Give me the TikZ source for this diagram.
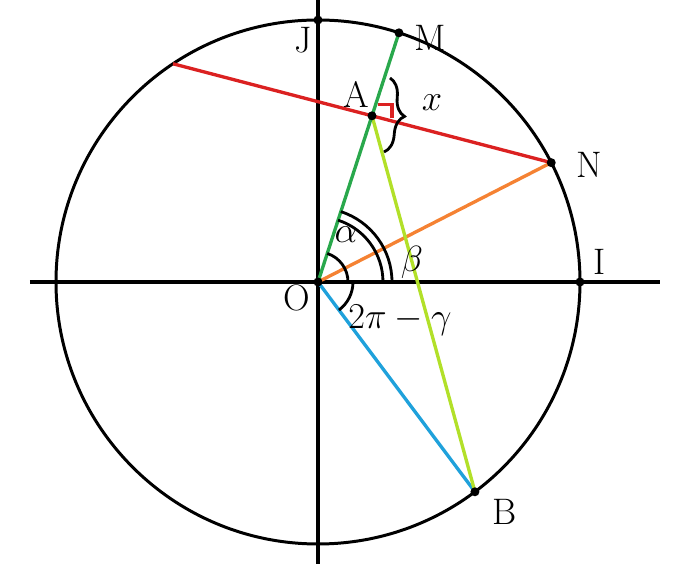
\documentclass[tikz,border=0pt]{standalone}
\usepackage{amsmath}
\usepackage{tikz}
\usetikzlibrary{calc}
\usetikzlibrary{intersections}
\usetikzlibrary{decorations.pathreplacing}
\definecolor{chordred}{rgb}{0.86,0.13,0.13}
\definecolor{radgreen}{rgb}{0.16,0.66,0.30}
\definecolor{radorange}{rgb}{0.96,0.51,0.20}
\definecolor{radblue}{rgb}{0.12,0.63,0.86}
\definecolor{segyellow}{rgb}{0.70,0.88,0.16}
\tikzset{
  axisline/.style={draw=black,line width=2.0pt},
  circleline/.style={draw=black,line width=1.7pt},
  colline/.style={line width=1.9pt},
  angleline/.style={draw=black,line width=1.6pt},
  dotpt/.style={fill=black},
  lbl/.style={font=\fontsize{21}{25}\selectfont}
}

\begin{document}
\begin{tikzpicture}[x=0.02cm,y=0.02cm]
  \useasboundingbox (-318,-282) rectangle (376,282);
  \coordinate (O) at (0,0);
  \coordinate (I) at (262,0);
  \coordinate (J) at (0,262);
  \coordinate (M) at (72:262);
  \coordinate (N) at (27.1:262);
  \coordinate (B) at (-53.2:262);
  \coordinate (P) at (123.6:262);
  \path[name path=om] (O) -- (M);
  \path[name path=pn] (P) -- (N);
  \path[name intersections={of=om and pn,by=A}];
  % axes and circle
  \draw (-288,0) -- (342,0) [axisline];
  \draw (0,-282) -- (0,282) [axisline];
  \draw (O) circle[radius=262] [circleline];
  % coloured lines
  \draw (P) -- (N) [colline,draw=chordred];
  \draw (O) -- (N) [colline,draw=radorange];
  \draw (O) -- (B) [colline,draw=radblue];
  \draw (A) -- (B) [colline,draw=segyellow];
  \draw (O) -- (M) [colline,draw=radgreen];
  \draw ($(A)+(6,11)$) -- ++(14,0) -- ++(0,-13) [colline,draw=chordred];
  % angles
  \draw[angleline] (30,0) arc [start angle=0,end angle=72,radius=30];
  \draw[angleline] (65,0) arc [start angle=0,end angle=72,radius=65];
  \draw[angleline] (74,0) arc [start angle=0,end angle=72,radius=74];
  \draw[angleline] (35,0) arc [start angle=0,end angle=-53.2,radius=35];
  \draw[angleline,decorate,decoration={brace,amplitude=10pt}] (72,204) -- (66,130);
  % points
  \foreach \p in {O,A,M,N,B,I,J}
    \fill[dotpt] (\p) circle[radius=4.5];
  % labels
  \node[lbl] at (-15,242) {J};
  \node[lbl] at (112,244) {M};
  \node[lbl] at (38,188) {A};
  \node[lbl] at (114,179) {$x$};
  \node[lbl] at (271,117) {N};
  \node[lbl] at (282,20) {I};
  \node[lbl] at (-21,-16) {O};
  \node[lbl] at (187,-230) {B};
  \node[lbl] at (28,47) {$\alpha$};
  \node[lbl] at (94,20) {$\beta$};
  \node[lbl] at (82,-38) {$2\pi-\gamma$};
\end{tikzpicture}
\end{document}
